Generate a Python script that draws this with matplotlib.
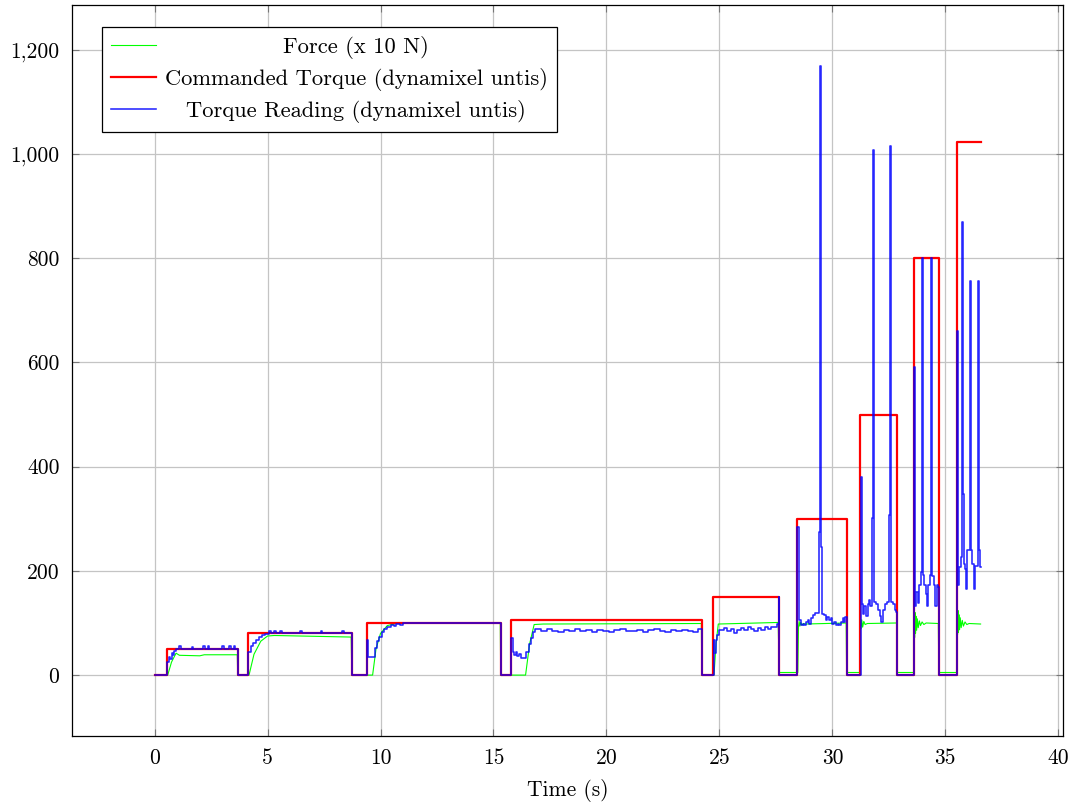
import matplotlib
matplotlib.use("Agg")
import matplotlib.pyplot as plt
from matplotlib.ticker import FuncFormatter, MultipleLocator

plt.rcParams.update({
    "font.family": "serif",
    "font.serif": ["cmr10"],
    "mathtext.fontset": "cm",
    "axes.formatter.use_mathtext": True,
    "font.size": 15.5,
    "axes.unicode_minus": False,
})

# Commanded torque (steps, held until next time)
cmd_t = [0, 0.55, 3.68, 4.15, 8.73, 9.40, 15.32, 15.76, 24.22, 24.72, 27.65,
         28.45, 30.63, 31.22, 32.87, 33.60, 34.71, 35.50, 36.56]
cmd_v = [0, 50, 0, 80, 0, 100, 0, 105, 0, 150, 0,
         300, 0, 500, 0, 800, 0, 1023, 1023]

# Torque reading from the servo (sampled, held)
read_t = [0, 0.56, 0.62, 0.70, 0.75, 0.82, 0.88, 0.95, 1.10, 1.18, 1.65, 1.72,
          2.15, 2.22, 2.35, 2.42, 3.00, 3.08, 3.30, 3.38, 3.50, 3.58, 3.68,
          4.15, 4.25, 4.35, 4.50, 4.60, 4.75, 4.90, 5.05, 5.15, 5.30, 5.38,
          5.55, 5.62, 6.45, 6.52, 7.35, 7.42, 8.30, 8.38, 8.73,
          9.40, 9.45, 9.75, 9.85, 9.95, 10.05, 10.15, 10.30, 10.45, 10.60,
          10.70, 10.85, 11.00, 15.32,
          15.79, 15.85, 15.90, 15.98, 16.05, 16.12, 16.20, 16.45, 16.55, 16.65,
          16.75, 16.85, 17.10, 17.35, 17.60, 17.85, 18.10, 18.35, 18.60, 18.85,
          19.10, 19.35, 19.60, 19.85, 20.10, 20.35, 20.60, 20.85, 21.10, 21.35,
          21.60, 21.85, 22.10, 22.35, 22.60, 22.85, 23.10, 23.35, 23.60, 23.85,
          24.05, 24.22,
          24.74, 24.78, 24.83, 24.90, 25.00, 25.20, 25.35, 25.50, 25.65, 25.80,
          25.95, 26.10, 26.25, 26.40, 26.55, 26.70, 26.85, 27.00, 27.15, 27.30,
          27.55, 27.62, 27.65,
          28.45, 28.52, 28.60, 28.68, 28.75, 28.83, 28.90, 28.98, 29.05, 29.15,
          29.25, 29.40, 29.46, 29.50, 29.54, 29.62, 29.70, 29.78, 29.85, 29.93,
          30.00, 30.08, 30.15, 30.23, 30.30, 30.38, 30.45, 30.52, 30.58, 30.63,
          31.25, 31.29, 31.35, 31.41, 31.50, 31.56, 31.62, 31.68, 31.74, 31.79,
          31.85, 31.91, 32.00, 32.09, 32.15, 32.24, 32.32, 32.41, 32.49, 32.54,
          32.60, 32.68, 32.75, 32.82, 32.87,
          33.62, 33.67, 33.72, 33.78, 33.85, 33.92, 33.95, 33.99, 34.06, 34.13,
          34.17, 34.23, 34.30, 34.37, 34.41, 34.48, 34.55, 34.61, 34.66, 34.71,
          35.52, 35.56, 35.62, 35.68, 35.74, 35.78, 35.82, 35.86, 35.92, 35.98,
          36.08, 36.13, 36.19, 36.25, 36.31, 36.44, 36.49, 36.52, 36.56]
read_v = [0, 25, 35, 30, 42, 38, 46, 50, 55, 51, 54, 51,
          55, 51, 55, 51, 55, 51, 55, 51, 55, 51, 0,
          45, 55, 62, 68, 73, 76, 79, 84, 80, 84, 80,
          85, 80, 85, 80, 84, 80, 85, 80, 0,
          68, 34, 52, 66, 74, 82, 88, 92, 96, 94,
          99, 97, 100, 0,
          72, 44, 38, 44, 36, 40, 33, 45, 60, 72,
          82, 88, 84, 88, 85, 82, 87, 85, 88, 84,
          86, 83, 87, 85, 82, 86, 88, 84, 85, 87,
          83, 86, 88, 85, 82, 86, 84, 87, 85, 83,
          88, 0,
          67, 43, 67, 77, 86, 90, 84, 88, 80, 86,
          90, 86, 92, 88, 85, 90, 87, 92, 88, 92,
          99, 150, 0,
          284, 105, 96, 99, 96, 102, 105, 99, 109, 115,
          120, 275, 1169, 246, 118, 115, 105, 112, 105, 109,
          99, 102, 96, 99, 96, 102, 109, 102, 112, 0,
          381, 137, 117, 133, 113, 137, 145, 133, 302, 1008,
          141, 137, 125, 113, 101, 125, 137, 141, 308, 1015,
          141, 137, 125, 121, 0,
          592, 133, 160, 139, 173, 197, 800, 193, 173, 156,
          133, 173, 193, 800, 190, 173, 133, 173, 170, 0,
          660, 173, 207, 227, 870, 348, 213, 203, 166, 240,
          756, 240, 213, 166, 210, 756, 240, 207, 207]

# Measured force, x 10 N
force_t = [0, 0.58, 0.75, 0.95, 1.10, 2.00, 2.20, 3.66, 3.68,
           4.18, 4.40, 4.70, 5.00, 5.30, 8.70, 8.73,
           9.65, 9.80, 10.00, 10.30, 10.80, 15.30, 15.32,
           16.42, 16.60, 16.80, 17.20, 24.20, 24.22,
           24.76, 24.85, 24.95, 27.60, 27.65,
           28.47, 28.50, 28.53, 28.56, 28.60, 28.65, 28.72, 28.80, 30.61, 30.63,
           31.22, 31.24, 31.27, 31.30, 31.34, 31.39, 31.45, 31.55, 32.85, 32.87,
           33.60, 33.62, 33.64, 33.66, 33.68, 33.70, 33.73, 33.76, 33.80, 33.85,
           33.90, 33.97, 34.05, 34.15, 34.69, 34.71,
           35.50, 35.52, 35.54, 35.56, 35.58, 35.60, 35.63, 35.66, 35.70, 35.75,
           35.80, 35.87, 35.95, 36.05, 36.56]
force_v = [0, 0, 25, 42, 38, 37, 39, 39, 0,
           0, 40, 65, 75, 76, 73, 0,
           0, 50, 80, 95, 100, 100, 0,
           0, 60, 97, 98, 99, 0,
           0, 60, 98, 101, 5,
           5, 93, 103, 94, 101, 96, 99, 98, 100, 5,
           5, 110, 89, 106, 92, 103, 97, 99, 100, 5,
           5, 128, 72, 120, 80, 113, 86, 108, 91, 104,
           95, 102, 97, 100, 99, 5,
           5, 132, 78, 124, 82, 116, 87, 110, 91, 105,
           94, 102, 97, 99, 98]

fig = plt.figure(figsize=(10.76, 8.05), dpi=100)
ax = fig.add_axes([0.0669, 0.0857, 0.9212, 0.9081])

ax.plot(force_t, force_v, color="#00ff00", lw=0.8, label="Force (x 10 N)")
ax.plot(cmd_t, cmd_v, color="#ff0000", lw=1.6, drawstyle="steps-post",
        label="Commanded Torque (dynamixel untis)")
# slightly see-through so the commanded steps show under the reading
ax.plot(read_t, read_v, color="#0000ff", lw=1.15, alpha=0.85,
        drawstyle="steps-post", label="Torque Reading (dynamixel untis)")

# axis limits padded by 10% of the data range on each side
all_t = force_t + cmd_t + read_t
all_v = force_v + cmd_v + read_v
dt = max(all_t) - min(all_t)
dv = max(all_v) - min(all_v)
ax.set_xlim(min(all_t) - 0.1 * dt, max(all_t) + 0.1 * dt)
ax.set_ylim(min(all_v) - 0.1 * dv, max(all_v) + 0.1 * dv)

ax.xaxis.set_major_locator(MultipleLocator(5))
ax.yaxis.set_major_locator(MultipleLocator(200))
ax.yaxis.set_major_formatter(FuncFormatter(lambda v, p: f"{v:,.0f}"))
ax.xaxis.set_major_formatter(FuncFormatter(lambda v, p: f"{v:.0f}"))
ax.tick_params(direction="in", length=5, width=0.8, top=True, right=True,
               labelsize=15.5, pad=9, color="#777777")
ax.grid(True, color="#c4c4c4", lw=0.9)
ax.set_axisbelow(True)
for s in ax.spines.values():
    s.set_linewidth(0.9)

ax.set_xlabel("Time (s)", fontsize=15.5, labelpad=8)

leg = ax.legend(loc="upper left", bbox_to_anchor=(0.03, 0.97), borderaxespad=0,
                fancybox=False, framealpha=1, edgecolor="black", fontsize=16.2,
                handlelength=2.0, handletextpad=0.4, labelspacing=0.4,
                borderpad=0.4)
leg.get_frame().set_linewidth(0.9)

# center the entry labels within the text column
fig.canvas.draw()
widths = [t.get_window_extent().width for t in leg.get_texts()]
for t, w in zip(leg.get_texts(), widths):
    t.set_x((max(widths) - w) / 2)

fig.savefig("out.png", dpi=100)
